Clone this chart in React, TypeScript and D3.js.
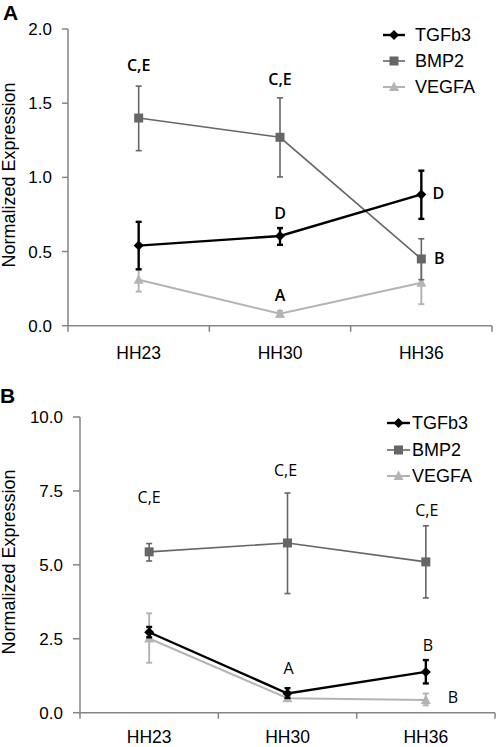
import React from "react";
import * as d3 from "d3";

const categories = ["HH23", "HH30", "HH36"];
const seriesNames = ["TGFb3", "BMP2", "VEGFA"];

// Panel A values
const aTGFb3 = [0.54, 0.605, 0.885];
const aTGFb3Lo = [0.38, 0.545, 0.72];
const aTGFb3Hi = [0.70, 0.658, 1.045];
const aBMP2 = [1.40, 1.27, 0.45];
const aBMP2Lo = [1.18, 1.003, 0.31];
const aBMP2Hi = [1.615, 1.536, 0.586];
const aVEGFA = [0.31, 0.08, 0.29];
const aVEGFALo = [0.23, 0.06, 0.145];
const aVEGFAHi = [0.38, 0.10, 0.43];
const aTicks = [0, 0.5, 1.0, 1.5, 2.0];

// Panel B values
const bTGFb3 = [2.72, 0.65, 1.38];
const bTGFb3Lo = [2.55, 0.5, 0.99];
const bTGFb3Hi = [2.9, 0.83, 1.78];
const bBMP2 = [5.44, 5.74, 5.10];
const bBMP2Lo = [5.13, 4.03, 3.88];
const bBMP2Hi = [5.72, 7.43, 6.32];
const bVEGFA = [2.51, 0.49, 0.43];
const bVEGFALo = [1.69, 0.44, 0.25];
const bVEGFAHi = [3.36, 0.54, 0.65];
const bTicks = [0, 2.5, 5.0, 7.5, 10.0];

// significance letters: [category, text, value at label center, dx]
const aLetters: [string, string, number, number][] = [
  ["HH23", "C,E", 1.755, 0],
  ["HH30", "C,E", 1.66, 0],
  ["HH30", "D", 0.755, 0],
  ["HH36", "D", 0.895, 17],
  ["HH36", "B", 0.457, 18],
  ["HH30", "A", 0.207, 0],
];
const bLetters: [string, string, number, number][] = [
  ["HH23", "C,E", 7.3, 0],
  ["HH30", "C,E", 8.2, -2],
  ["HH36", "C,E", 6.85, 1],
  ["HH30", "A", 1.51, 1],
  ["HH36", "B", 2.29, 2],
  ["HH36", "B", 0.53, 27],
];

const colors: Record<string, string> = { TGFb3: "#000000", BMP2: "#666666", VEGFA: "#b4b4b4" };
const widths: Record<string, number> = { TGFb3: 2.4, BMP2: 1.6, VEGFA: 2 };

function Marker({ name, x, y }: { name: string; x: number; y: number }) {
  const c = colors[name];
  if (name === "TGFb3") {
    const s = 5;
    return <path d={`M${x},${y - s}L${x + s},${y}L${x},${y + s}L${x - s},${y}Z`} fill={c} />;
  }
  if (name === "BMP2") {
    return <rect x={x - 4.5} y={y - 4.5} width={9} height={9} fill={c} />;
  }
  return <path d={`M${x},${y - 5.5}L${x + 5},${y + 4}L${x - 5},${y + 4}Z`} fill={c} />;
}

type Series = { name: string; v: number[]; lo: number[]; hi: number[] };

function Panel(props: {
  label: string; labelY: number;
  left: number; right: number; top: number; bottom: number;
  domain: [number, number]; ticks: number[]; tickLen: number; tickGap: number;
  series: Series[]; letters: [string, string, number, number][];
  letterWeight: number;
  legX1: number; legX2: number; legTX: number; legY: number[];
  xLabelY: number; yLabelCenter: number;
}) {
  const p = props;
  const x = d3.scaleBand().domain(categories).range([p.left, p.right]).padding(0);
  const cx = (c: string) => (x(c) as number) + x.bandwidth() / 2;
  const y = d3.scaleLinear().domain(p.domain).range([p.bottom, p.top]);
  const axisColor = "#858585";
  const line = (vals: number[]) =>
    d3.line<number>().x((_, i) => cx(categories[i])).y((d) => y(d))(vals) as string;
  const order = ["VEGFA", "BMP2", "TGFb3"];
  const drawn = order.map((n) => p.series.find((s) => s.name === n)!);
  const boundaries = [...categories.map((c) => x(c) as number), p.right];
  return (
    <g>
      <text x={p.label === "A" ? 3 : 0} y={p.labelY} fontFamily="Liberation Sans, Arial, sans-serif" fontWeight="bold" fontSize={21}>{p.label}</text>
      <text transform={`translate(15,${p.yLabelCenter}) rotate(-90)`} textAnchor="middle" fontFamily="Liberation Sans, Arial, sans-serif" fontSize={18}>Normalized Expression</text>
      {/* axes */}
      <line x1={p.left} x2={p.left} y1={p.top} y2={p.bottom} stroke={axisColor} strokeWidth={1.5} />
      <line x1={p.left} x2={p.right} y1={p.bottom} y2={p.bottom} stroke={axisColor} strokeWidth={1.5} />
      {p.ticks.map((t) => (
        <g key={t}>
          <line x1={p.left - p.tickLen} x2={p.left} y1={y(t)} y2={y(t)} stroke={axisColor} strokeWidth={1.5} />
          <text x={p.left - p.tickLen - p.tickGap} y={y(t)} dy="0.36em" textAnchor="end" fontFamily="Liberation Sans, Arial, sans-serif" fontSize={17}>{d3.format(".1f")(t)}</text>
        </g>
      ))}
      {boundaries.map((b, i) => (
        <line key={i} x1={b} x2={b} y1={p.bottom} y2={p.bottom + 6} stroke={axisColor} strokeWidth={1.5} />
      ))}
      {categories.map((c) => (
        <text key={c} x={cx(c)} y={p.xLabelY} textAnchor="middle" fontFamily="Liberation Sans, Arial, sans-serif" fontSize={17.5}>{c}</text>
      ))}
      {/* series */}
      {drawn.map((s) => (
        <g key={s.name}>
          <path d={line(s.v)} fill="none" stroke={colors[s.name]} strokeWidth={widths[s.name]} />
          {s.v.map((v, i) => {
            const xx = cx(categories[i]);
            return (
              <g key={i}>
                <line x1={xx} x2={xx} y1={y(s.lo[i])} y2={y(s.hi[i])} stroke={colors[s.name]} strokeWidth={widths[s.name]} />
                <line x1={xx - 3} x2={xx + 3} y1={y(s.lo[i])} y2={y(s.lo[i])} stroke={colors[s.name]} strokeWidth={widths[s.name]} />
                <line x1={xx - 3} x2={xx + 3} y1={y(s.hi[i])} y2={y(s.hi[i])} stroke={colors[s.name]} strokeWidth={widths[s.name]} />
                <Marker name={s.name} x={xx} y={y(v)} />
              </g>
            );
          })}
        </g>
      ))}
      {/* letters */}
      {p.letters.map(([c, t, v, dx], i) => (
        <text key={i} x={cx(c) + dx} y={y(v)} dy="0.36em" textAnchor="middle" fontFamily="Open Sans, sans-serif" fontWeight={p.letterWeight} fontSize={16}>{t}</text>
      ))}
      {/* legend */}
      {seriesNames.map((n, i) => (
        <g key={n}>
          <line x1={p.legX1} x2={p.legX2} y1={p.legY[i]} y2={p.legY[i]} stroke={colors[n]} strokeWidth={widths[n]} />
          <Marker name={n} x={(p.legX1 + p.legX2) / 2} y={p.legY[i]} />
          <text x={p.legTX} y={p.legY[i]} dy="0.36em" fontFamily="Liberation Sans, Arial, sans-serif" fontSize={18}>{n}</text>
        </g>
      ))}
    </g>
  );
}

export default function App() {
  const seriesA: Series[] = [
    { name: "TGFb3", v: aTGFb3, lo: aTGFb3Lo, hi: aTGFb3Hi },
    { name: "BMP2", v: aBMP2, lo: aBMP2Lo, hi: aBMP2Hi },
    { name: "VEGFA", v: aVEGFA, lo: aVEGFALo, hi: aVEGFAHi },
  ];
  const seriesB: Series[] = [
    { name: "TGFb3", v: bTGFb3, lo: bTGFb3Lo, hi: bTGFb3Hi },
    { name: "BMP2", v: bBMP2, lo: bBMP2Lo, hi: bBMP2Hi },
    { name: "VEGFA", v: bVEGFA, lo: bVEGFALo, hi: bVEGFAHi },
  ];
  return (
    <svg width={496} height={747} style={{ position: "absolute", left: 0, top: 0, background: "#fff" }}>
      <rect width={496} height={747} fill="#fff" />
      <Panel label="A" labelY={20} left={68} right={492} top={29} bottom={325.7}
        domain={[0, 2]} ticks={aTicks} tickLen={6} tickGap={10}
        series={seriesA} letters={aLetters} letterWeight={600}
        legX1={383} legX2={405} legTX={415} legY={[35, 61, 87]}
        xLabelY={359} yLabelCenter={175} />
      <Panel label="B" labelY={403} left={80} right={495} top={417} bottom={712.7}
        domain={[0, 10]} ticks={bTicks} tickLen={7} tickGap={10}
        series={seriesB} letters={bLetters} letterWeight={400}
        legX1={387} legX2={410} legTX={412} legY={[423, 450, 476]}
        xLabelY={743} yLabelCenter={562} />
    </svg>
  );
}
